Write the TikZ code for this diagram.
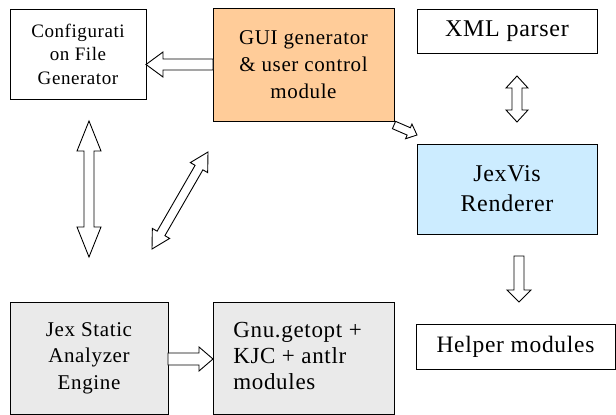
\documentclass[tikz,border=0pt]{standalone}
\usepackage{fontspec}
\setmainfont{Liberation Serif}[LetterSpace=3]
\usetikzlibrary{calc}
\definecolor{guiorange}{RGB}{255,204,153}
\definecolor{jexblue}{RGB}{204,236,255}
\definecolor{boxgray}{RGB}{234,234,234}
\tikzset{
  box/.style={draw=black, line width=1pt, inner sep=0pt, align=center},
  barrow/.style={draw=black, fill=white, line width=0.9pt, line join=miter},
}
% double block arrow between #1 and #2 : shaft half #3, head half #4, head length #5
\newcommand{\dblockarrow}[5]{%
  \draw[barrow] (#1)
    -- ($(#1)!#5!(#2)!#4!90:(#2)$) -- ($(#1)!#5!(#2)!#3!90:(#2)$)
    -- ($(#2)!#5!(#1)!#3!-90:(#1)$) -- ($(#2)!#5!(#1)!#4!-90:(#1)$)
    -- (#2)
    -- ($(#2)!#5!(#1)!#4!90:(#1)$) -- ($(#2)!#5!(#1)!#3!90:(#1)$)
    -- ($(#1)!#5!(#2)!#3!-90:(#2)$) -- ($(#1)!#5!(#2)!#4!-90:(#2)$)
    -- cycle;}
% single block arrow from #1 (tail) to #2 (tip)
\newcommand{\sblockarrow}[5]{%
  \draw[barrow] ($(#1)!#3!90:(#2)$)
    -- ($(#2)!#5!(#1)!#3!-90:(#1)$) -- ($(#2)!#5!(#1)!#4!-90:(#1)$)
    -- (#2)
    -- ($(#2)!#5!(#1)!#4!90:(#1)$) -- ($(#2)!#5!(#1)!#3!90:(#1)$)
    -- ($(#1)!#3!-90:(#2)$) -- cycle;}
\begin{document}
\begin{tikzpicture}[x=1pt, y=-1pt]
\useasboundingbox (0,0) rectangle (616,415);

\node[box, minimum width=136pt, minimum height=90pt, font=\fontsize{19}{23.5}\selectfont] (cfg) at (78,54) {Configurati\\on File\\Generator};
\node[box, fill=guiorange, minimum width=181pt, minimum height=113pt, font=\fontsize{21}{27}\selectfont] (gui) at (303.5,64.5) {GUI generator\\\& user control\\module};
\node[box, minimum width=180pt, minimum height=44pt, font=\fontsize{24}{26}\selectfont] (xml) at (507,31) {XML parser};
\node[box, fill=jexblue, minimum width=180pt, minimum height=90pt, font=\fontsize{24}{30}\selectfont] (vis) at (507,189) {JexVis\\Renderer};
\node[box, minimum width=199pt, minimum height=45pt, font=\fontsize{23.5}{26}\selectfont] (help) at (515.5,346.5) {Helper modules};
\node[box, fill=boxgray, minimum width=158pt, minimum height=112pt, font=\fontsize{21}{26.5}\selectfont] (jex) at (89,358) {Jex Static\\Analyzer\\Engine};
\node[box, fill=boxgray, minimum width=181pt, minimum height=112pt, font=\fontsize{23}{26}\selectfont] (gnu) at (303.5,358) {\begin{tabular}{@{}l@{}}Gnu.getopt +\\KJC + antlr\\modules\end{tabular}\hspace*{12pt}};

% arrow end points
\coordinate (a1s) at (213,64.5);  \coordinate (a1e) at (146,64.5);
\coordinate (a2s) at (89,121);    \coordinate (a2e) at (89,257);
\coordinate (a3s) at (208,152);   \coordinate (a3e) at (152,249);
\coordinate (a4s) at (394,125);   \coordinate (a4e) at (417,135);
\coordinate (a5s) at (517,76);    \coordinate (a5e) at (517,122);
\coordinate (a6s) at (519,256);   \coordinate (a6e) at (519,302);
\coordinate (a7s) at (168,359);   \coordinate (a7e) at (213,359);

\sblockarrow{a1s}{a1e}{5.5pt}{12.5pt}{17pt}
\dblockarrow{a2s}{a2e}{5pt}{12pt}{30pt}
\dblockarrow{a3s}{a3e}{4.5pt}{10pt}{18pt}
\sblockarrow{a4s}{a4e}{4pt}{8pt}{9pt}
\dblockarrow{a5s}{a5e}{5pt}{11pt}{12pt}
\sblockarrow{a6s}{a6e}{5pt}{12pt}{12pt}
\sblockarrow{a7s}{a7e}{6pt}{12pt}{14pt}
\end{tikzpicture}
\end{document}
